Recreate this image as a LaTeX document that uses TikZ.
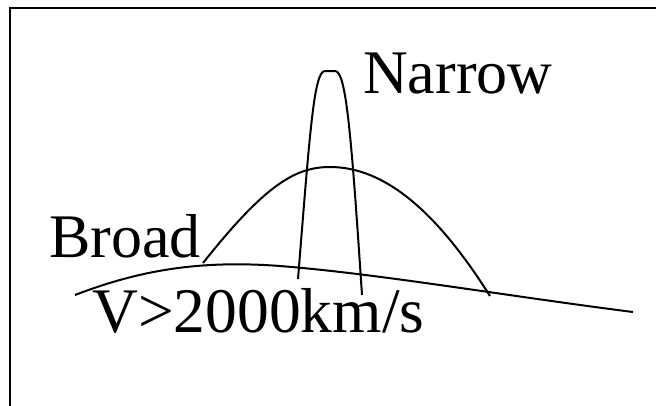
\documentclass[tikz,border=0pt]{standalone}
\usepackage{fontspec}
\setmainfont{Liberation Serif}
\begin{document}
\begin{tikzpicture}[x=1pt,y=-1pt,
  curve/.style={line width=2pt,line join=round},
  frame/.style={line width=2.8pt},
  lbl/.style={anchor=base west,inner sep=0pt,font=\fontsize{62}{62}\selectfont}]
\useasboundingbox (0,0) rectangle (656,405);
\draw[frame] (10,406) -- (10,8) -- (657,8);
% wide base profile
\draw[curve] (75,295) .. controls (140,270) and (200,260) .. (280,266)
  .. controls (380,274) and (500,295) .. (633,312);
% broad component
\draw[curve] (203,263) .. controls (265,185) and (295,167) .. (330,167)
  .. controls (385,167) and (437,212) .. (490,296);
% narrow component
\draw[curve] (298,279) .. controls (310,130) and (314,71) .. (325,71)
  -- (335,71) .. controls (346,71) and (351,130) .. (362,295);
\node[lbl] (narrow) at (363,93) {Narrow};
\node[lbl] (broad) at (49,257) {Broad};
\node[lbl,font=\fontsize{63.5}{63.5}\selectfont] (vel) at (92,332) {V>2000km/s};
\end{tikzpicture}
\end{document}
